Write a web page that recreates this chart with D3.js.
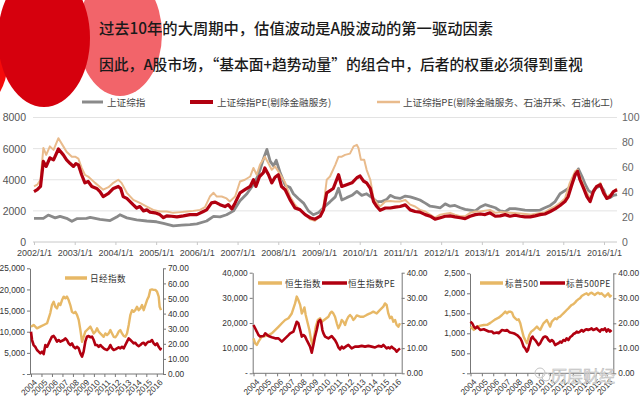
<!DOCTYPE html>
<html><head><meta charset="utf-8">
<script src="https://cdn.jsdelivr.net/npm/d3@7/dist/d3.min.js"></script>
<style>body{margin:0;background:#fff;overflow:hidden}svg{display:block}</style>
</head><body><svg id="c" width="640" height="404"></svg>
<script>
// ---------- text ----------
const titleLines = ["过去10年的大周期中，估值波动是A股波动的第一驱动因素",
                    "因此，A股市场，“基本面+趋势动量”的组合中，后者的权重必须得到重视"];
const topLegend = ["上证综指", "上证综指PE(剔除金融服务)", "上证综指PE(剔除金融服务、石油开采、石油化工)"];
const topXTicks = [2002,2003,2004,2005,2006,2007,2008,2009,2010,2011,2012,2013,2014,2015,2016];
const topLeftTicks = [0,2000,4000,6000,8000];
const topRightTicks = [0,20,40,60,80,100];
const smallXTicks = [2004,2005,2006,2007,2008,2009,2010,2011,2012,2013,2014,2015,2016];

// ---------- top chart data: [year, value] ----------
const shComposite = [[2002.00,1515],[2002.23,1520],[2002.35,1730],[2002.52,1550],[2002.64,1650],[2002.80,1520],[2002.93,1330],[2003.05,1500],[2003.29,1520],[2003.38,1580],[2003.62,1450],[2003.87,1380],[2004.03,1600],[2004.11,1750],[2004.28,1550],[2004.52,1420],[2004.77,1350],[2005.01,1300],[2005.18,1200],[2005.42,1030],[2005.63,1080],[2005.83,1120],[2006.00,1170],[2006.24,1350],[2006.41,1650],[2006.57,1620],[2006.73,1750],[2006.90,2000],[2007.06,2650],[2007.23,3100],[2007.39,3700],[2007.51,4300],[2007.63,5300],[2007.72,5950],[2007.80,5200],[2007.88,4900],[2007.95,5250],[2008.04,4500],[2008.17,3650],[2008.29,3500],[2008.37,3100],[2008.49,2800],[2008.62,2500],[2008.74,2000],[2008.86,1750],[2008.99,1900],[2009.15,2300],[2009.27,2580],[2009.40,2900],[2009.48,3450],[2009.56,2700],[2009.68,2850],[2009.81,3000],[2009.93,3250],[2010.05,3000],[2010.17,3100],[2010.30,2850],[2010.42,2600],[2010.54,2600],[2010.67,2750],[2010.75,3000],[2010.87,2850],[2010.99,2800],[2011.12,2950],[2011.24,2900],[2011.36,2800],[2011.48,2700],[2011.61,2500],[2011.73,2300],[2011.85,2250],[2011.98,2200],[2012.10,2450],[2012.22,2300],[2012.34,2350],[2012.47,2200],[2012.59,2100],[2012.71,2050],[2012.84,2000],[2012.96,2250],[2013.08,2400],[2013.20,2300],[2013.33,2200],[2013.45,2000],[2013.57,1950],[2013.69,2150],[2013.82,2150],[2013.94,2100],[2014.06,2050],[2014.19,2030],[2014.31,2030],[2014.43,2050],[2014.55,2200],[2014.68,2350],[2014.80,2600],[2014.92,3100],[2015.04,3300],[2015.16,3500],[2015.25,4000],[2015.33,4500],[2015.37,4700],[2015.46,4200],[2015.54,3700],[2015.62,3300],[2015.70,3150],[2015.78,3450],[2015.91,3600],[2015.99,3350],[2016.07,2800],[2016.15,2850],[2016.23,3000],[2016.32,3050]];

const shPEexFin = [[2002.00,40.5],[2002.08,42],[2002.16,44.6],[2002.23,64.7],[2002.30,60.7],[2002.39,67.6],[2002.48,66],[2002.60,74.7],[2002.72,70],[2002.80,66],[2002.89,63],[2002.97,60.7],[2003.03,63],[2003.09,62],[2003.17,54],[2003.25,47.5],[2003.33,48.6],[2003.42,44.6],[2003.54,43],[2003.62,40.5],[2003.70,36.5],[2003.83,39],[2003.95,43],[2004.07,44.6],[2004.13,43],[2004.19,36.5],[2004.28,35],[2004.36,32.5],[2004.44,29.8],[2004.52,27.3],[2004.60,28.5],[2004.69,25],[2004.77,25.8],[2004.85,24],[2004.97,23.4],[2005.09,22],[2005.18,19.5],[2005.26,21],[2005.38,20.7],[2005.51,20.2],[2005.67,21],[2005.83,22],[2006.00,22],[2006.16,24.5],[2006.24,25.8],[2006.36,31.4],[2006.45,32],[2006.57,30],[2006.69,28.5],[2006.77,30],[2006.86,26.6],[2006.94,31.4],[2007.06,39.5],[2007.18,42],[2007.31,44.6],[2007.39,50],[2007.45,44.6],[2007.54,52.6],[2007.63,55.5],[2007.67,59.5],[2007.76,54],[2007.84,47.5],[2007.92,52],[2008.00,54],[2008.08,44.6],[2008.17,42],[2008.29,33.8],[2008.41,27.3],[2008.53,26],[2008.66,22],[2008.78,19.5],[2008.90,18.3],[2009.03,20.7],[2009.11,25.8],[2009.19,39.5],[2009.35,43],[2009.48,54],[2009.56,44.6],[2009.68,46],[2009.81,47.5],[2009.93,51.6],[2010.01,53],[2010.09,49],[2010.17,47.5],[2010.26,43],[2010.34,32.5],[2010.42,28.5],[2010.50,25.5],[2010.63,27.3],[2010.75,27.3],[2010.87,28],[2010.99,28.5],[2011.12,29.8],[2011.24,25.8],[2011.36,24.5],[2011.48,24],[2011.61,22],[2011.73,20.7],[2011.85,18.3],[2011.98,19.5],[2012.10,20.7],[2012.22,21],[2012.34,20.2],[2012.47,19.5],[2012.59,18.8],[2012.71,20.7],[2012.84,22],[2012.96,22.5],[2013.08,22],[2013.20,23.4],[2013.33,20.7],[2013.45,21],[2013.57,22],[2013.69,20.7],[2013.82,21.5],[2013.94,20.7],[2014.06,20.2],[2014.19,20.2],[2014.31,21],[2014.43,22],[2014.55,22.5],[2014.68,24.5],[2014.80,26.6],[2014.92,29.3],[2015.04,32.5],[2015.12,36.5],[2015.21,46],[2015.29,54],[2015.35,56.7],[2015.41,50],[2015.50,43],[2015.58,36.5],[2015.66,32.5],[2015.74,40.5],[2015.82,44.6],[2015.91,46],[2015.99,39.5],[2016.07,35],[2016.15,36.5],[2016.23,40.5],[2016.32,42]];

const shPEexFinOil = [[2002.00,44.6],[2002.08,46],[2002.16,50],[2002.23,75.5],[2002.30,70],[2002.39,76.8],[2002.48,74],[2002.60,83.4],[2002.72,76.8],[2002.80,72.5],[2002.93,68.5],[2003.01,68.5],[2003.09,67],[2003.17,59.5],[2003.25,54],[2003.33,52.6],[2003.50,47.5],[2003.70,42],[2003.83,44],[2003.95,47.5],[2004.07,50],[2004.15,47.5],[2004.28,39.5],[2004.44,33.8],[2004.60,31.4],[2004.77,28.5],[2004.93,25.8],[2005.09,24.5],[2005.26,24.5],[2005.42,23.4],[2005.59,24],[2005.75,24.5],[2005.91,25],[2006.08,25.8],[2006.20,28],[2006.32,36.5],[2006.41,39.5],[2006.49,36.5],[2006.61,36.5],[2006.73,35],[2006.81,32.5],[2006.94,36.5],[2007.06,48.6],[2007.18,50],[2007.31,52.6],[2007.39,59.5],[2007.47,54],[2007.55,62],[2007.67,68.5],[2007.76,63],[2007.84,58],[2007.92,60.7],[2008.00,56.7],[2008.08,52.6],[2008.17,47.5],[2008.29,36.5],[2008.41,30],[2008.53,25.8],[2008.66,22],[2008.78,18.3],[2008.90,17],[2009.03,20.7],[2009.11,28.5],[2009.19,50],[2009.27,52.6],[2009.40,62],[2009.48,68.5],[2009.56,68.5],[2009.64,70],[2009.76,71],[2009.85,76.8],[2009.93,78],[2009.97,75.5],[2010.03,66],[2010.11,66],[2010.17,58],[2010.26,50],[2010.34,35],[2010.42,31.4],[2010.50,28.5],[2010.63,32.5],[2010.75,33],[2010.87,32.5],[2010.99,32.5],[2011.12,33.8],[2011.24,30],[2011.36,28.5],[2011.48,25.8],[2011.61,24.5],[2011.73,22],[2011.85,19.5],[2011.98,22],[2012.10,22.8],[2012.22,23.4],[2012.34,22],[2012.47,20.7],[2012.59,20.7],[2012.71,23.4],[2012.84,24.5],[2012.96,24.5],[2013.20,25.8],[2013.33,23.4],[2013.45,24],[2013.69,23.4],[2013.94,22.8],[2014.19,22],[2014.43,23.4],[2014.55,24],[2014.68,26.6],[2014.80,28.5],[2014.92,31.4],[2015.04,35],[2015.16,47.5],[2015.29,56.7],[2015.35,58],[2015.41,52.6],[2015.54,42],[2015.66,35],[2015.78,43],[2015.91,47.5],[2015.99,40.5],[2016.07,36.5],[2016.15,38],[2016.32,43]];

// ---------- small panels data ----------
const nikkeiIndex = [[2004.00,11200],[2004.25,11600],[2004.57,10800],[2004.89,11200],[2005.21,11600],[2005.53,12000],[2005.84,14400],[2006.00,16300],[2006.16,17100],[2006.32,15900],[2006.48,15500],[2006.64,16700],[2006.80,16300],[2006.96,17500],[2007.12,18300],[2007.28,17900],[2007.43,18300],[2007.59,17500],[2007.75,16300],[2007.91,14700],[2008.07,14400],[2008.23,14700],[2008.39,14000],[2008.55,12800],[2008.71,10400],[2008.87,7600],[2009.02,8800],[2009.18,10000],[2009.34,10400],[2009.50,10800],[2009.66,11200],[2009.82,10400],[2009.98,9600],[2010.14,10000],[2010.30,10800],[2010.46,10000],[2010.61,9600],[2010.77,9200],[2010.93,8800],[2011.09,9600],[2011.25,9200],[2011.41,9600],[2011.57,10400],[2011.73,9600],[2011.89,8800],[2012.05,8700],[2012.20,9200],[2012.36,10000],[2012.52,10400],[2012.68,9600],[2012.84,9000],[2013.00,8800],[2013.16,9600],[2013.32,11600],[2013.48,14000],[2013.64,15100],[2013.79,14700],[2013.95,15100],[2014.11,15900],[2014.27,15100],[2014.43,15500],[2014.59,16300],[2014.75,15100],[2014.91,16300],[2015.07,17500],[2015.23,18300],[2015.38,19900],[2015.54,20000],[2015.70,19900],[2015.86,19900],[2016.02,19500],[2016.18,18300],[2016.27,15900],[2016.40,15100]];
const nikkeiPE = [[2004.00,28],[2004.10,22.5],[2004.25,19.2],[2004.41,18],[2004.57,15.9],[2004.73,14.8],[2004.89,13.7],[2005.05,14.8],[2005.21,13.2],[2005.37,19.2],[2005.53,18],[2005.69,20.3],[2005.84,22.5],[2006.00,24.7],[2006.16,25.2],[2006.32,23.6],[2006.48,21.4],[2006.64,22.5],[2006.80,21.4],[2006.96,22],[2007.12,22.5],[2007.28,23.6],[2007.43,22.5],[2007.59,20.3],[2007.75,19.2],[2007.91,20.3],[2008.07,18],[2008.23,17],[2008.39,18],[2008.55,17],[2008.71,13.7],[2008.87,11.5],[2009.02,14.8],[2009.18,21.4],[2009.34,24.7],[2009.50,25.2],[2009.66,24.3],[2009.82,24.7],[2009.98,22.5],[2010.14,19.2],[2010.30,19.2],[2010.46,18],[2010.61,19.2],[2010.77,18],[2010.93,17],[2011.09,16.3],[2011.25,15.9],[2011.41,17],[2011.57,19.2],[2011.73,17],[2011.89,15.9],[2012.05,16.3],[2012.20,17],[2012.36,17.7],[2012.52,17],[2012.68,18],[2012.84,17],[2013.00,19.2],[2013.16,21.4],[2013.32,23.6],[2013.48,22.5],[2013.64,21.4],[2013.79,20.3],[2013.95,20.7],[2014.11,19.2],[2014.27,18.5],[2014.43,19.2],[2014.59,20.3],[2014.75,20.7],[2014.91,19.2],[2015.07,20.7],[2015.23,21.4],[2015.38,21.4],[2015.54,22.5],[2015.70,20.3],[2015.86,19.2],[2016.02,20.3],[2016.18,18],[2016.34,16.3],[2016.40,17.5]];

const hsiIndex = [[2004.00,13900],[2004.14,11900],[2004.28,11300],[2004.42,12600],[2004.70,14600],[2004.99,14800],[2005.27,15200],[2005.55,15900],[2005.83,17200],[2006.11,18500],[2006.40,19900],[2006.68,21200],[2006.96,21900],[2007.24,23800],[2007.52,27800],[2007.66,30500],[2007.80,29100],[2007.95,27200],[2008.09,23800],[2008.23,25200],[2008.31,26200],[2008.42,23200],[2008.59,19900],[2008.73,17200],[2008.88,13200],[2008.99,11300],[2009.13,14600],[2009.27,18500],[2009.44,21200],[2009.64,21900],[2009.78,20500],[2010.06,21500],[2010.34,22500],[2010.48,23800],[2010.62,24500],[2010.76,23800],[2010.90,22500],[2011.05,19900],[2011.19,17900],[2011.33,19200],[2011.47,21200],[2011.61,20500],[2011.75,19200],[2011.89,21200],[2012.03,22500],[2012.17,23200],[2012.31,22500],[2012.45,21200],[2012.59,21900],[2012.74,23000],[2013.02,22500],[2013.30,22500],[2013.58,23200],[2013.86,23800],[2014.14,24500],[2014.43,23800],[2014.71,25200],[2014.99,26500],[2015.13,27800],[2015.27,27200],[2015.41,23800],[2015.55,21900],[2015.69,22500],[2015.84,20500],[2015.98,21200],[2016.12,19200],[2016.26,18500],[2016.40,19900]];
const hsiPE = [[2004.00,19.2],[2004.14,17.9],[2004.28,16.6],[2004.42,15.2],[2004.56,14.6],[2004.85,14.8],[2004.99,15.9],[2005.27,14.8],[2005.55,14.3],[2005.83,13.9],[2006.11,13.9],[2006.40,12.6],[2006.68,13.9],[2006.96,15.2],[2007.10,15.9],[2007.38,16.6],[2007.52,18.5],[2007.66,20.5],[2007.80,19.9],[2007.95,17.2],[2008.09,14.6],[2008.23,15.2],[2008.37,14.6],[2008.51,13.2],[2008.65,11.9],[2008.79,10.6],[2008.93,8.2],[2009.07,11.3],[2009.21,14.6],[2009.35,17.2],[2009.50,20.5],[2009.64,21.2],[2009.72,20.5],[2009.83,17.2],[2009.92,15.9],[2010.06,14.6],[2010.34,13.9],[2010.62,14.8],[2010.90,13.2],[2011.05,11.9],[2011.19,10.3],[2011.33,9.5],[2011.47,10.6],[2011.61,9.9],[2011.89,10.9],[2012.03,11.3],[2012.31,9.9],[2012.59,10.6],[2012.88,10.6],[2013.16,10.9],[2013.44,10.6],[2013.72,10.9],[2014.00,10.6],[2014.29,10.3],[2014.57,10.9],[2014.85,10.6],[2014.99,11.3],[2015.13,10.6],[2015.27,9.9],[2015.41,10.3],[2015.55,9.9],[2015.69,10.6],[2015.84,9.9],[2015.98,9.5],[2016.12,8.6],[2016.26,9.3],[2016.40,9.9]];

const spxIndex = [[2004.00,1167],[2004.29,1083],[2004.58,1167],[2004.88,1190],[2005.17,1208],[2005.46,1210],[2005.75,1260],[2005.90,1292],[2006.19,1350],[2006.48,1390],[2006.77,1458],[2007.06,1542],[2007.21,1500],[2007.36,1542],[2007.50,1540],[2007.65,1520],[2007.79,1417],[2007.94,1375],[2008.09,1333],[2008.23,1350],[2008.38,1250],[2008.52,1083],[2008.67,917],[2008.81,833],[2008.96,750],[2009.05,833],[2009.17,958],[2009.34,1042],[2009.54,1083],[2009.84,1167],[2009.98,1125],[2010.13,1083],[2010.27,1167],[2010.42,1250],[2010.57,1292],[2010.71,1333],[2010.86,1250],[2011.00,1167],[2011.15,1292],[2011.29,1333],[2011.44,1375],[2011.59,1350],[2011.73,1400],[2011.88,1417],[2012.02,1458],[2012.17,1500],[2012.32,1542],[2012.46,1583],[2012.61,1625],[2012.75,1667],[2012.90,1708],[2013.05,1730],[2013.19,1767],[2013.34,1817],[2013.48,1850],[2013.63,1875],[2013.78,1933],[2013.92,1958],[2014.07,1983],[2014.21,2000],[2014.36,1958],[2014.51,2000],[2014.65,2017],[2014.80,1983],[2014.94,1958],[2015.09,2000],[2015.23,2017],[2015.38,1983],[2015.53,2000],[2015.67,1958],[2015.82,1917],[2015.96,1958],[2016.11,2000],[2016.26,1917],[2016.40,1958]];
const spxPE = [[2004.00,20.7],[2004.15,20],[2004.29,18.7],[2004.44,18],[2004.58,18.7],[2004.88,17.3],[2005.17,17.6],[2005.46,17],[2005.60,16.7],[2005.90,16.7],[2006.04,16],[2006.33,16.3],[2006.48,16],[2006.77,17.3],[2007.06,17],[2007.21,17.3],[2007.36,16.7],[2007.50,16.3],[2007.79,16],[2007.94,15.7],[2008.09,15.3],[2008.23,14.7],[2008.38,14],[2008.52,12.7],[2008.67,10.7],[2008.81,10],[2008.96,8.7],[2009.05,9.3],[2009.17,11.3],[2009.34,14],[2009.46,14.7],[2009.54,14],[2009.69,13.3],[2009.84,12.3],[2009.98,11.3],[2010.13,12],[2010.27,13.3],[2010.42,14.4],[2010.57,14.7],[2010.71,14.4],[2010.86,13.3],[2011.00,12.7],[2011.15,13.3],[2011.29,12.7],[2011.44,11.3],[2011.59,11.7],[2011.73,12],[2011.88,12.7],[2012.02,12.3],[2012.17,13.3],[2012.32,13],[2012.46,14],[2012.61,13.3],[2012.75,14.4],[2012.90,14.9],[2013.05,15.7],[2013.19,16],[2013.34,16.7],[2013.48,16.3],[2013.63,16.7],[2013.78,17.3],[2013.92,16.7],[2014.07,17.3],[2014.21,17.6],[2014.36,17.3],[2014.51,17.6],[2014.65,18],[2014.80,17.3],[2014.94,17.6],[2015.09,18],[2015.23,17.3],[2015.38,16.7],[2015.53,17.6],[2015.67,17.3],[2015.82,18],[2015.96,16.7],[2016.11,17.6],[2016.26,16.7],[2016.40,17.3]];

const panelNames = [["日经指数"], ["恒生指数","恒生指数PE"], ["标普500","标普500PE"]];

// ---------- drawing ----------
const svg = d3.select("#c");
const CJK = "'Noto Sans CJK SC','Noto Sans',sans-serif";
const NUM = "'Liberation Sans Narrow','Liberation Sans',Arial,sans-serif";
const RED = "#b10010", TAN_TOP = "#e9bb8c", TAN = "#e7b866", GRAY = "#8a8a8a";

// decorative circles
svg.append("ellipse").attr("cx",-30).attr("cy",60).attr("rx",38).attr("ry",52).attr("fill","#f50a0a");
svg.append("ellipse").attr("cx",120).attr("cy",34).attr("rx",42).attr("ry",62).attr("fill","#f2646a");
svg.append("ellipse").attr("cx",44).attr("cy",38).attr("rx",46).attr("ry",69).attr("fill","#d6000d");

// titles
const titleSizes = [15.3, 14.8];
titleLines.forEach((t,i)=>{
  svg.append("text").attr("x",99).attr("y",[34,70][i]).text(t)
    .attr("font-family",CJK).attr("font-size",titleSizes[i]).attr("font-weight",500).attr("fill","#1a1a1a");
});

// ---------- top chart ----------
const x = d3.scaleLinear().domain([2002,2016]).range([34,604]);
const yL = d3.scaleLinear().domain([0,8000]).range([242,117.5]);
const yR = d3.scaleLinear().domain([0,100]).range([242,117.5]);

svg.append("g").selectAll("line").data(topLeftTicks.slice(1)).join("line")
  .attr("x1",33).attr("x2",617).attr("y1",d=>yL(d)).attr("y2",d=>yL(d))
  .attr("stroke","#e3e3e3").attr("stroke-width",1);
svg.append("line").attr("x1",33).attr("x2",617).attr("y1",yL(0)).attr("y2",yL(0)).attr("stroke","#c8c8c8");

const gxa = svg.append("g").attr("transform","translate(0,242)")
  .call(d3.axisBottom(x).tickValues(topXTicks).tickFormat(d=>d+"/1/1").tickSize(3).tickPadding(5));
gxa.select(".domain").remove();
gxa.selectAll("line").attr("stroke","#c8c8c8");
gxa.selectAll("text").attr("font-family",NUM).attr("font-size",9).attr("fill","#444");

const gyl = svg.append("g").attr("transform","translate(33,0)")
  .call(d3.axisLeft(yL).tickValues(topLeftTicks).tickFormat(d3.format("d")).tickSize(0).tickPadding(7));
gyl.select(".domain").remove();
gyl.selectAll("text").attr("font-family",NUM).attr("font-size",10.5).attr("fill","#555");

const gyr = svg.append("g").attr("transform","translate(617,0)")
  .call(d3.axisRight(yR).tickValues(topRightTicks).tickFormat(d3.format("d")).tickSize(0).tickPadding(5));
gyr.select(".domain").remove();
gyr.selectAll("text").attr("font-family",NUM).attr("font-size",10.5).attr("fill","#666");

const lineL = d3.line().x(d=>x(d[0])).y(d=>yL(d[1]));
const lineR = d3.line().x(d=>x(d[0])).y(d=>yR(d[1]));
svg.append("path").datum(shComposite).attr("d",lineL).attr("fill","none").attr("stroke",GRAY).attr("stroke-width",2.8).attr("stroke-linejoin","round");
svg.append("path").datum(shPEexFinOil).attr("d",lineR).attr("fill","none").attr("stroke",TAN_TOP).attr("stroke-width",2).attr("stroke-linejoin","round");
svg.append("path").datum(shPEexFin).attr("d",lineR).attr("fill","none").attr("stroke",RED).attr("stroke-width",3.2).attr("stroke-linejoin","round");

// top legend
const legItems = [
  {x1:82,x2:103,tx:107,c:GRAY,w:3,t:topLegend[0]},
  {x1:190,x2:213,tx:217,c:RED,w:4,t:topLegend[1]},
  {x1:377,x2:400,tx:403,c:TAN_TOP,w:2.5,t:topLegend[2]}];
legItems.forEach(l=>{
  svg.append("line").attr("x1",l.x1).attr("x2",l.x2).attr("y1",102).attr("y2",102).attr("stroke",l.c).attr("stroke-width",l.w);
  svg.append("text").attr("x",l.tx).attr("y",105.5).text(l.t).attr("font-family",CJK).attr("font-size",9.6).attr("fill","#444");
});

// ---------- small panels ----------
const panels = [
  {L:30,R:163,T:268.3,B:374,xr:[31,161],lMax:25000,lStep:5000,rMax:70,rStep:10,idx:nikkeiIndex,pe:nikkeiPE,
   leg:[{x1:65,x2:87,tx:90,c:TAN,t:panelNames[0][0]}],ly:278},
  {L:252.7,R:401.7,T:272.7,B:373.3,xr:[253.5,400],lMax:40000,lStep:10000,rMax:40,rStep:10,idx:hsiIndex,pe:hsiPE,
   leg:[{x1:258,x2:282,tx:285,c:TAN,t:panelNames[1][0]},{x1:322,x2:347,tx:348,c:RED,t:panelNames[1][1]}],ly:283},
  {L:470,R:613.3,T:273.3,B:373.3,xr:[470.5,611.5],lMax:2500,lStep:500,rMax:40,rStep:10,idx:spxIndex,pe:spxPE,
   leg:[{x1:480,x2:503,tx:505,c:TAN,t:panelNames[2][0]},{x1:540,x2:565,tx:566,c:RED,t:panelNames[2][1]}],ly:283}
];
panels.forEach(p=>{
  const g = svg.append("g");
  const px = d3.scaleLinear().domain([2004,2016.4]).range(p.xr);
  const pl = d3.scaleLinear().domain([0,p.lMax]).range([p.B,p.T]);
  const pr = d3.scaleLinear().domain([0,p.rMax]).range([p.B,p.T]);
  const axL = g.append("g").attr("transform",`translate(${p.L},0)`)
    .call(d3.axisLeft(pl).tickValues(d3.range(0,p.lMax+1,p.lStep)).tickFormat(v=>v===0?"-":d3.format(",")(v)).tickSize(3).tickSizeOuter(0).tickPadding(2));
  const axR = g.append("g").attr("transform",`translate(${p.R},0)`)
    .call(d3.axisRight(pr).tickValues(d3.range(0,p.rMax+1,p.rStep)).tickFormat(d3.format(".2f")).tickSize(3).tickSizeOuter(0).tickPadding(2));
  const axB = g.append("g").attr("transform",`translate(0,${p.B})`)
    .call(d3.axisBottom(px).tickValues(smallXTicks).tickFormat(d3.format("d")).tickSize(3).tickSizeOuter(0));
  axB.select(".domain").attr("d",`M${p.L},0H${p.R}`);
  axB.selectAll(".tick text").attr("y",0).attr("dy","0.35em").attr("text-anchor","end")
    .attr("transform","translate(4,7) rotate(-45)");
  [axL,axR,axB].forEach(a=>{
    a.selectAll(".domain,line").attr("stroke","#777");
    a.selectAll("text").attr("font-family",NUM).attr("font-size",8.3).attr("fill","#333");
  });
  g.append("path").datum(p.idx).attr("d",d3.line().x(d=>px(d[0])).y(d=>pl(d[1])))
    .attr("fill","none").attr("stroke",TAN).attr("stroke-width",2.4).attr("stroke-linejoin","round");
  g.append("path").datum(p.pe).attr("d",d3.line().x(d=>px(d[0])).y(d=>pr(d[1])))
    .attr("fill","none").attr("stroke",RED).attr("stroke-width",2.6).attr("stroke-linejoin","round");
  p.leg.forEach(l=>{
    g.append("line").attr("x1",l.x1).attr("x2",l.x2).attr("y1",p.ly).attr("y2",p.ly).attr("stroke",l.c).attr("stroke-width",3.5);
    g.append("text").attr("x",l.tx).attr("y",p.ly+3.5).text(l.t).attr("font-family",CJK).attr("font-size",8.6).attr("fill","#333").attr("letter-spacing",0.4);
  });
});

// watermark
svg.append("circle").attr("cx",540).attr("cy",373).attr("r",5).attr("fill","none").attr("stroke","#c4c4c4").attr("stroke-width",1);
svg.append("circle").attr("cx",546).attr("cy",377).attr("r",4).attr("fill","none").attr("stroke","#c4c4c4").attr("stroke-width",1);
svg.append("text").attr("x",551).attr("y",382).text("历层财经").attr("font-family",CJK).attr("font-size",16)
  .attr("fill","#e6e6e6").attr("stroke","#b8b8b8").attr("stroke-width",0.5);
</script></body></html>
